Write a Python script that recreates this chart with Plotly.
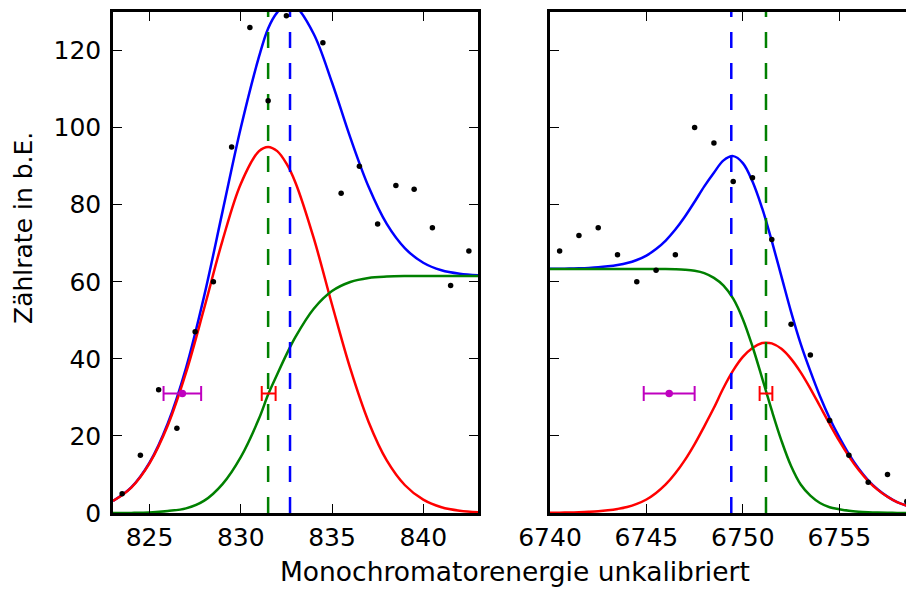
import plotly.graph_objects as go

# ---------------- data ----------------
# measured points (left: L edge region, right: K edge region)
left_x_pts = [823.5, 824.5, 825.5, 826.5, 827.5, 828.5, 829.5, 830.5, 831.5, 832.5,
              834.5, 835.5, 836.5, 837.5, 838.5, 839.5, 840.5, 841.5, 842.5]
left_y_pts = [5, 15, 32, 22, 47, 60, 95, 126, 107, 129,
              122, 83, 90, 75, 85, 84, 74, 59, 68]

right_x_pts = [6740.5, 6741.5, 6742.5, 6743.5, 6744.5, 6745.5, 6746.5, 6747.5, 6748.5, 6749.5,
               6750.5, 6751.5, 6752.5, 6753.5, 6754.5, 6755.5, 6756.5, 6757.5, 6758.5]
right_y_pts = [68, 72, 74, 67, 60, 63, 67, 100, 96, 86,
               87, 71, 49, 41, 24, 15, 8, 10, 3]

# fitted curves
left_fit_x = [823, 824, 825, 826, 827, 828, 829, 830, 831, 831.5, 832, 832.5, 833,
              834, 835, 836, 837, 838, 839, 840, 841, 842, 843]
left_peak = [3.1, 6.6, 12.9, 22.7, 36.4, 53.2, 70.7, 85.4, 93.9, 95.0, 93.9, 90.7, 85.7,
             71.3, 54.1, 37.5, 23.7, 13.65, 7.2, 3.45, 1.5, 0.6, 0.2]
left_step = [0.0, 0.03, 0.15, 0.52, 1.2, 3.2, 7.5, 14.5, 24.5, 30.75, 36.0, 41.1, 45.7,
             53.0, 57.6, 59.95, 61.0, 61.35, 61.47, 61.49, 61.5, 61.5, 61.5]
left_total = [3.1, 6.63, 13.05, 23.22, 37.6, 56.4, 78.2, 99.9, 118.4, 125.75, 129.9, 131.8, 131.4,
              124.3, 111.7, 97.45, 84.7, 75.0, 68.67, 64.94, 63.0, 62.1, 61.7]

right_fit_x = [6740, 6740.5, 6741, 6741.5, 6742, 6742.5, 6743, 6743.5, 6744, 6744.5,
               6745, 6745.5, 6746, 6746.5, 6747, 6747.5, 6748, 6748.5, 6749, 6749.5,
               6750, 6750.5, 6751, 6751.2, 6751.5, 6752, 6752.5, 6753, 6753.5, 6754,
               6754.5, 6755, 6755.5, 6756, 6756.5, 6757, 6757.5, 6758, 6758.5]
right_peak = [0.05, 0.08, 0.13, 0.2, 0.3, 0.45, 0.7, 1.05, 1.55, 2.35,
              3.5, 5.2, 7.4, 10.3, 13.8, 17.9, 22.5, 27.3, 32.5, 37.0,
              40.5, 42.8, 44.1, 44.2, 44.0, 42.6, 40.0, 36.5, 32.3, 27.7,
              23.1, 18.7, 14.7, 11.2, 8.3, 6.0, 4.2, 2.8, 1.9]
right_step = [63.3, 63.3, 63.3, 63.3, 63.3, 63.3, 63.3, 63.3, 63.3, 63.3,
              63.3, 63.3, 63.3, 63.25, 63.14, 62.87, 62.26, 61.0, 59.0, 55.6,
              50.3, 43.2, 35.0, 31.65, 26.6, 18.8, 12.2, 7.4, 4.5, 2.6,
              1.5, 1.0, 0.6, 0.35, 0.2, 0.1, 0.05, 0.03, 0.02]
right_total = [63.35, 63.38, 63.43, 63.5, 63.6, 63.75, 64.0, 64.35, 64.85, 65.65,
               66.8, 68.5, 70.7, 73.55, 76.94, 80.77, 84.76, 88.3, 91.5, 92.6,
               90.8, 86.0, 79.1, 75.85, 70.6, 61.4, 52.2, 43.9, 36.8, 30.3,
               24.6, 19.7, 15.3, 11.55, 8.5, 6.1, 4.25, 2.83, 1.92]

# vertical marker lines
left_green_line = 831.5
left_blue_line = 832.7
right_blue_line = 6749.4
right_green_line = 6751.2
y_span = [0, 130]

# error-bar points
left_mag_x, left_mag_err, left_mag_y = 826.8, 1.03, 31
left_red_x, left_red_err, left_red_y = 831.53, 0.38, 31
right_mag_x, right_mag_err, right_mag_y = 6746.18, 1.32, 31
right_red_x, right_red_err, right_red_y = 6751.2, 0.33, 31

left_ticks = [825, 830, 835, 840]
right_ticks = [6740, 6745, 6750, 6755]
y_ticks = [0, 20, 40, 60, 80, 100, 120]

# ---------------- styles ----------------
BLUE = "#0000ff"
RED = "#ff0000"
GREEN = "#008000"
MAG = "#bf00bf"
LW = 2.5
FONT = "DejaVu Sans"

fig = go.Figure()


def add_panel(xa, ya, fx, total, peak, step, px, py, vlines, mag, red):
    fig.add_trace(go.Scatter(x=fx, y=total, mode="lines", line=dict(color=BLUE, width=LW, shape="spline"),
                             xaxis=xa, yaxis=ya, showlegend=False))
    fig.add_trace(go.Scatter(x=fx, y=peak, mode="lines", line=dict(color=RED, width=LW, shape="spline"),
                             xaxis=xa, yaxis=ya, showlegend=False))
    fig.add_trace(go.Scatter(x=fx, y=step, mode="lines", line=dict(color=GREEN, width=LW, shape="spline"),
                             xaxis=xa, yaxis=ya, showlegend=False))
    for v, c in vlines:
        fig.add_trace(go.Scatter(x=[v, v], y=y_span, mode="lines",
                                 line=dict(color=c, width=LW, dash="16px,15px"),
                                 xaxis=xa, yaxis=ya, showlegend=False))
    fig.add_trace(go.Scatter(x=px, y=py, mode="markers",
                             marker=dict(color="black", size=5.5, line=dict(width=0)),
                             xaxis=xa, yaxis=ya, showlegend=False))
    mx, me, my = mag
    fig.add_trace(go.Scatter(x=[mx], y=[my], mode="markers",
                             marker=dict(color=MAG, size=7.5, line=dict(width=0)),
                             error_x=dict(type="data", array=[me], color=MAG, thickness=2, width=7.5),
                             xaxis=xa, yaxis=ya, showlegend=False))
    rx, re, ry = red
    fig.add_trace(go.Scatter(x=[rx], y=[ry], mode="markers",
                             marker=dict(color=RED, size=2, line=dict(width=0)),
                             error_x=dict(type="data", array=[re], color=RED, thickness=2, width=7.5),
                             xaxis=xa, yaxis=ya, showlegend=False))


add_panel("x", "y", left_fit_x, left_total, left_peak, left_step, left_x_pts, left_y_pts,
          [(left_green_line, GREEN), (left_blue_line, BLUE)],
          (left_mag_x, left_mag_err, left_mag_y), (left_red_x, left_red_err, left_red_y))
add_panel("x2", "y2", right_fit_x, right_total, right_peak, right_step, right_x_pts, right_y_pts,
          [(right_blue_line, BLUE), (right_green_line, GREEN)],
          (right_mag_x, right_mag_err, right_mag_y), (right_red_x, right_red_err, right_red_y))

W, H = 906, 589
ydom = [(H - 513) / H, (H - 12) / H]

axis_common = dict(showline=True, linecolor="black", linewidth=2.5, ticks="inside",
                   ticklen=9, tickwidth=1.2, tickcolor="black", showgrid=False, zeroline=False,
                   tickfont=dict(family=FONT, size=25, color="black"))

fig.update_layout(
    width=W, height=H,
    margin=dict(l=0, r=0, t=0, b=0),
    paper_bgcolor="white", plot_bgcolor="white",
    font=dict(family=FONT, size=25, color="black"),
    xaxis=dict(domain=[113 / W, 478 / W], range=[823, 843], tickvals=left_ticks,
               mirror="allticks", anchor="y", automargin=False, **axis_common),
    xaxis2=dict(domain=[550 / W, 1.0], range=[6740, 6758.46], tickvals=right_ticks,
                mirror="allticks", anchor="y2", automargin=False, **axis_common),
    yaxis=dict(domain=ydom, range=[0, 130], tickvals=y_ticks, mirror="allticks",
               anchor="x", automargin=False, ticklabelstandoff=4, **axis_common),
    yaxis2=dict(domain=ydom, range=[0, 130], tickvals=y_ticks, mirror=False,
                showticklabels=False, anchor="x2", matches="y", automargin=False, **axis_common),
    annotations=[
        dict(text="Monochromatorenergie unkalibriert", xref="paper", yref="paper",
             x=515 / W, y=0, xanchor="center", yanchor="bottom", showarrow=False,
             font=dict(family=FONT, size=26.5, color="black")),
        dict(text="Zählrate in b.E.", xref="paper", yref="paper",
             x=23 / W, y=1 - 228 / H, xanchor="center", yanchor="middle", textangle=-90,
             showarrow=False, font=dict(family=FONT, size=25, color="black")),
    ],
)

fig.write_html("out.html")
